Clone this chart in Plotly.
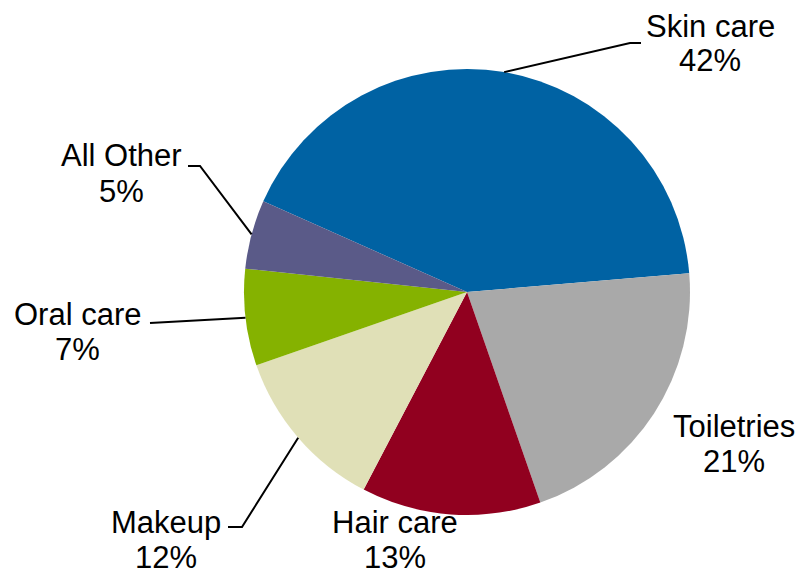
import math
import plotly.graph_objects as go

# Market share by category
categories = ["Skin care", "Toiletries", "Hair care", "Makeup", "Oral care", "All Other"]
shares = [42, 21, 13, 12, 7, 5]
colors = ["#0062A3", "#A9A9A9", "#91001F", "#E0E0B7", "#85B200", "#5A5A88"]

W, H = 802, 571
CX, CY, R = 467, 292, 223          # pie centre and radius in pixels
ROTATION = -66                     # start angle of first slice, clockwise from 12 o'clock


def fx(x):
    return x / W


def fy(y):
    return 1 - y / H


fig = go.Figure(
    go.Pie(
        labels=categories,
        values=shares,
        marker=dict(colors=colors, line=dict(width=0)),
        sort=False,
        direction="clockwise",
        rotation=ROTATION,
        textinfo="none",
        hoverinfo="label+percent",
        domain=dict(x=[fx(CX - R), fx(CX + R)], y=[fy(CY + R), fy(CY - R)]),
        showlegend=False,
    )
)

# label placement (centre of the first text line) and optional leader line elbow points
label_pos = {
    "Skin care": (710, 26),
    "Toiletries": (734, 426),
    "Hair care": (395, 522),
    "Makeup": (166, 522),
    "Oral care": (77, 314),
    "All Other": (121, 156),
}
leader_elbows = {
    "Skin care": [(641, 43), (630, 43)],
    "All Other": [(188, 166), (200, 166)],
    "Oral care": [(150, 323)],
    "Makeup": [(228, 527), (242, 527)],
}
LINE_GAP = 35

annotations = []
shapes = []
total = sum(shares)
start = ROTATION
for name, val in zip(categories, shares):
    span = 360 * val / total
    mid = math.radians(start + span / 2)
    start += span
    ex, ey = CX + R * math.sin(mid), CY - R * math.cos(mid)

    lx, ly = label_pos[name]
    for txt, yy in ((name, ly), (f"{val}%", ly + LINE_GAP)):
        annotations.append(
            dict(
                x=fx(lx), y=fy(yy), xref="paper", yref="paper",
                text=txt, showarrow=False, xanchor="center", yanchor="middle",
                font=dict(family="Liberation Sans, Arial, sans-serif", size=31, color="#000000"),
            )
        )

    if name in leader_elbows:
        pts = leader_elbows[name] + [(ex, ey)]
        path = "M " + " L ".join(f"{fx(x)},{fy(y)}" for x, y in pts)
        shapes.append(
            dict(type="path", xref="paper", yref="paper", path=path,
                 line=dict(color="#000000", width=2))
        )

fig.update_layout(
    width=W, height=H,
    margin=dict(l=0, r=0, t=0, b=0),
    paper_bgcolor="#FFFFFF",
    plot_bgcolor="#FFFFFF",
    annotations=annotations,
    shapes=shapes,
)

fig.write_html("out.html")
